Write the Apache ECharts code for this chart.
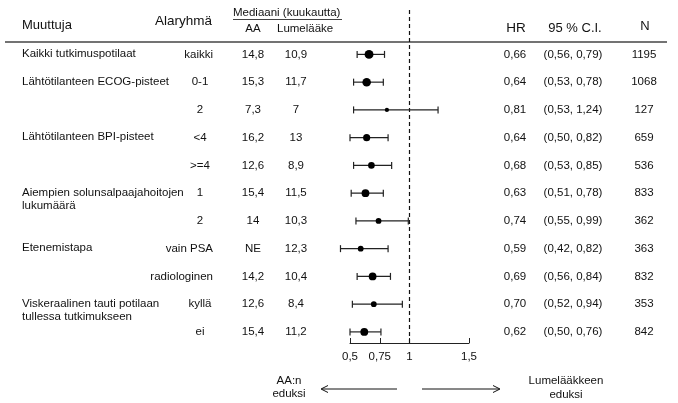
<!DOCTYPE html>
<html>
<head>
<meta charset="utf-8">
<script src="https://cdn.jsdelivr.net/npm/echarts@6/dist/echarts.min.js"></script>
<style>
html,body{margin:0;padding:0;background:#fff;}
#chart{width:678px;height:403px;}
</style>
</head>
<body>
<div id="chart"></div>
<script>
// ---- data ----
const variables = ['Kaikki tutkimuspotilaat', 'Lähtötilanteen ECOG-pisteet', '', 'Lähtötilanteen BPI-pisteet', '',
  'Aiempien solunsalpaajahoitojen\nlukumäärä', '', 'Etenemistapa', '', 'Viskeraalinen tauti potilaan\ntullessa tutkimukseen', ''];
const subgroups = ['kaikki', '0-1', '2', '<4', '>=4', '1', '2', 'vain PSA', 'radiologinen', 'kyllä', 'ei'];
const medianAA = ['14,8', '15,3', '7,3', '16,2', '12,6', '15,4', '14', 'NE', '14,2', '12,6', '15,4'];
const medianPlacebo = ['10,9', '11,7', '7', '13', '8,9', '11,5', '10,3', '12,3', '10,4', '8,4', '11,2'];
const hr = [0.66, 0.64, 0.81, 0.64, 0.68, 0.63, 0.74, 0.59, 0.69, 0.70, 0.62];
const ciLow = [0.56, 0.53, 0.53, 0.50, 0.53, 0.51, 0.55, 0.42, 0.56, 0.52, 0.50];
const ciHigh = [0.79, 0.78, 1.24, 0.82, 0.85, 0.78, 0.99, 0.82, 0.84, 0.94, 0.76];
const nPatients = [1195, 1068, 127, 659, 536, 833, 362, 363, 832, 353, 842];
const tickValues = [0.5, 0.75, 1, 1.5];

// ---- helpers ----
const fi = v => v.toFixed(2).replace('.', ',');
const FONT = '"Liberation Sans", Arial, sans-serif';
const TXT = '#111';
const BODY = '11.5px ' + FONT;

const forestData = hr.map((h, i) => [i, h, ciLow[i], ciHigh[i], nPatients[i]]);
const rowData = subgroups.map((s, i) => [i]);

const chart = echarts.init(document.getElementById('chart'), null, {renderer: 'canvas'});

function txt(x, y, text, opt) {
  return {
    type: 'text', x: x, y: y,
    style: Object.assign({text: text, fill: TXT, font: BODY, textAlign: 'left', textVerticalAlign: 'middle'}, opt || {})
  };
}

const option = {
  animation: false,
  backgroundColor: '#fff',
  grid: {left: 350, right: 209, top: 10, bottom: 60, containLabel: false},
  xAxis: {
    type: 'value', min: 0.5, max: 1.5,
    axisLine: {show: true, onZero: false, lineStyle: {color: '#222', width: 1}},
    axisTick: {show: true, inside: true, length: 5, customValues: tickValues, lineStyle: {color: '#222', width: 1}},
    axisLabel: {customValues: tickValues, formatter: v => String(v).replace('.', ','), fontSize: 11.5, fontFamily: FONT, color: TXT, margin: 8},
    splitLine: {show: false}
  },
  yAxis: {type: 'value', inverse: true, min: -1.6, max: 10.4, show: false},
  series: [
    {
      type: 'custom',
      name: 'rows',
      data: rowData,
      clip: false,
      encode: {y: 0},
      renderItem: function (params, api) {
        const i = api.value(0);
        const y = api.coord([1, i])[1];
        const ch = [];
        const v = variables[i];
        if (v) {
          ch.push({type: 'text', x: 22, y: y - 7,
            style: {text: v, fill: TXT, font: BODY, textAlign: 'left', textVerticalAlign: 'top', lineHeight: 13}});
        }
        const s = subgroups[i];
        if (s.length >= 6) ch.push(txt(213, y, s, {textAlign: 'right'}));
        else ch.push(txt(200, y, s, {textAlign: 'center'}));
        ch.push(txt(253, y, medianAA[i], {textAlign: 'center'}));
        ch.push(txt(296, y, medianPlacebo[i], {textAlign: 'center'}));
        ch.push(txt(515, y, fi(hr[i]), {textAlign: 'center'}));
        ch.push(txt(573, y, '(' + fi(ciLow[i]) + ', ' + fi(ciHigh[i]) + ')', {textAlign: 'center'}));
        ch.push(txt(644, y, String(nPatients[i]), {textAlign: 'center'}));
        return {type: 'group', children: ch};
      },
      z: 5
    },
    {
      type: 'custom',
      name: 'forest',
      data: forestData,
      clip: false,
      encode: {x: [1, 2, 3], y: 0},
      renderItem: function (params, api) {
        const i = api.value(0);
        const c = api.coord([api.value(1), i]);
        const lo = api.coord([api.value(2), i]);
        const hi = api.coord([api.value(3), i]);
        const r = (2 + 0.2 * Math.sqrt(api.value(4))) / 2;
        const ls = {stroke: '#222', lineWidth: 1.2};
        return {type: 'group', children: [
          {type: 'line', shape: {x1: lo[0], y1: c[1], x2: hi[0], y2: c[1]}, style: ls},
          {type: 'line', shape: {x1: lo[0], y1: c[1] - 3.5, x2: lo[0], y2: c[1] + 3.5}, style: ls},
          {type: 'line', shape: {x1: hi[0], y1: c[1] - 3.5, x2: hi[0], y2: c[1] + 3.5}, style: ls},
          {type: 'circle', shape: {cx: c[0], cy: c[1], r: r}, style: {fill: '#000'}}
        ]};
      },
      markLine: {
        silent: true, symbol: ['none', 'none'], label: {show: false},
        lineStyle: {color: '#111', width: 1.2, type: [4, 3]},
        data: [{xAxis: 1}]
      },
      z: 10
    }
  ],
  graphic: [
    txt(22, 25, 'Muuttuja', {font: '13px ' + FONT}),
    txt(155, 21, 'Alaryhmä', {font: '13.5px ' + FONT}),
    txt(233, 13, 'Mediaani (kuukautta)'),
    {type: 'line', shape: {x1: 233, y1: 19.5, x2: 342, y2: 19.5}, style: {stroke: TXT, lineWidth: 0.8}},
    txt(253, 29, 'AA', {textAlign: 'center'}),
    txt(277, 29, 'Lumelääke'),
    txt(516, 28, 'HR', {font: '13.5px ' + FONT, textAlign: 'center'}),
    txt(575, 28, '95 % C.I.', {font: '13px ' + FONT, textAlign: 'center'}),
    txt(645, 26, 'N', {font: '13px ' + FONT, textAlign: 'center'}),
    {type: 'line', shape: {x1: 5, y1: 42, x2: 667, y2: 42}, style: {stroke: '#444', lineWidth: 1.5}},
    // arrows
    {type: 'line', shape: {x1: 322, y1: 389, x2: 397, y2: 389}, style: {stroke: '#111', lineWidth: 1}},
    {type: 'polyline', shape: {points: [[328, 385.5], [321, 389], [328, 392.5]]}, style: {stroke: '#111', lineWidth: 1, fill: null}},
    {type: 'line', shape: {x1: 422, y1: 389, x2: 499, y2: 389}, style: {stroke: '#111', lineWidth: 1}},
    {type: 'polyline', shape: {points: [[493, 385.5], [500, 389], [493, 392.5]]}, style: {stroke: '#111', lineWidth: 1, fill: null}},
    txt(289, 381, 'AA:n', {textAlign: 'center'}),
    txt(289, 394, 'eduksi', {textAlign: 'center'}),
    txt(566, 381, 'Lumelääkkeen', {textAlign: 'center'}),
    txt(566, 395, 'eduksi', {textAlign: 'center'})
  ]
};
chart.setOption(option);
</script>
</body>
</html>
